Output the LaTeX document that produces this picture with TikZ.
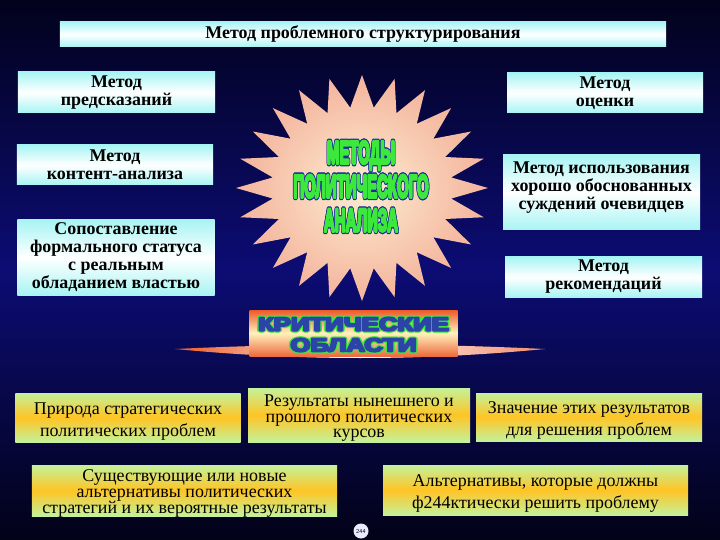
\documentclass[tikz,border=0pt]{standalone}
\usepackage{fontspec}
\setmainfont{Liberation Serif}
\newfontfamily\headfont{Liberation Sans Bold}[FakeBold=10]
\usepackage[copies]{contour}
\contournumber{8}
\usepackage{tikz}
\usetikzlibrary{positioning}
\newcommand{\boxstrut}{\rule{0pt}{19bp}}
\newcommand{\midstrut}{\rule{0pt}{14bp}}
\newcommand{\lowstrut}{\rule[-14bp]{0pt}{0pt}}
\definecolor{bgtop}{HTML}{02021C}
\definecolor{bgmid}{HTML}{0C0C74}
\definecolor{bgbot}{HTML}{020218}
\definecolor{boxcyan}{HTML}{A8F4F4}
\definecolor{areagreen}{HTML}{C4F29A}
\definecolor{areaorange}{HTML}{FFC424}
\definecolor{starin}{HTML}{FCEDD0}
\definecolor{starout}{HTML}{F4B39C}
\definecolor{titlegreen}{HTML}{3CE83C}
\definecolor{titleblue}{HTML}{1A2E9C}
\definecolor{bannerred}{HTML}{EC5A28}
\definecolor{banneryellow}{HTML}{FFF2BC}
\definecolor{bannerblue}{HTML}{2C44A8}
\tikzstyle{slide}=[
  x=1bp,y=-1bp
]
\tikzstyle{methodbox}=[
  inner sep=0pt,align=center,top color=boxcyan,bottom color=boxcyan,middle color=white,
  font=\bfseries\fontsize{18}{18}\selectfont
]
\tikzstyle{areabox}=[
  inner sep=0pt,align=center,top color=areagreen,bottom color=areagreen,middle color=areaorange
]
\tikzstyle{loose}=[
  font=\fontsize{18}{22}\selectfont
]
\tikzstyle{tight}=[
  font=\fontsize{18}{16}\selectfont
]
\tikzstyle{startext}=[
  align=center,text=titlegreen,xscale=0.47,line join=round,miter limit=1,
  font=\headfont\fontsize{32}{34}\selectfont
]
\tikzstyle{bannertext}=[
  align=center,text=bannerblue,xscale=1.36,line join=round,miter limit=1,
  font=\headfont\fontsize{19}{21}\selectfont
]

\begin{document}
\begin{tikzpicture}[slide]
  \useasboundingbox (0,0) rectangle (720,540);
  \shade[top color=bgtop,bottom color=bgbot,middle color=bgmid] (0,0) rectangle (720,540);
  % star
  \begin{scope}[shift={(362,188)}]
    \shade[inner color=starin,outer color=starout] (0:126bp and 113bp)
      \foreach \a in {0,15,...,345}{ -- (\a:126bp and 113bp) -- ({\a+7.5}:90bp and 81bp)} -- cycle;
  \end{scope}
  \begin{scope}[line join=round,miter limit=1]
    \node (methods) at (361,187) [startext] {\contourlength{1.3pt}\contour{titleblue}{МЕТОДЫ}\\
      \contourlength{1.3pt}\contour{titleblue}{ПОЛИТИЧЕСКОГО}\\
      \contourlength{1.3pt}\contour{titleblue}{АНАЛИЗА}};
  \end{scope}
  % title and methods
  \node (title) at (363,34.5) [methodbox,minimum width=606bp,minimum height=25bp] {Метод проблемного структурирования};
  \node (predict) at (116.5,92.5) [methodbox,minimum width=197bp,minimum height=41bp] {Метод\\предсказаний};
  \node (content) at (115,165) [methodbox,minimum width=196bp,minimum height=40bp] {Метод\\контент-анализа};
  \node (compare) at (116,257.5) [methodbox,minimum width=197bp,minimum height=75bp] {Сопоставление\\формального статуса\\с реальным\\обладанием властью};
  \node (assess) at (605,93) [methodbox,minimum width=196bp,minimum height=40bp] {Метод\\оценки};
  \node (evidence) at (601.5,192.5) [methodbox,minimum width=197bp,minimum height=75bp] {Метод использования\\хорошо обоснованных\\суждений очевидцев\lowstrut};
  \node (recommend) at (603.5,277) [methodbox,minimum width=197bp,minimum height=40bp] {Метод\\рекомендаций};
  % critical areas
  \shade[left color=bannerred,right color=bannerred!70,middle color=white]
    (175,349) .. controls (300,343) and (420,343) .. (545,349) .. controls (420,361) and (300,361) .. cycle;
  \node (critical) at (353.5,333) [top color=bannerred,bottom color=bannerred!90,middle color=banneryellow,
    minimum width=208bp,minimum height=46bp,inner sep=0pt] {};
  \begin{scope}[line join=round,miter limit=1]
    \node (criticaltext) at (353.5,335) [bannertext] {\contourlength{1pt}\contour{titlegreen}{КРИТИЧЕСКИЕ}\\
      \contourlength{1pt}\contour{titlegreen}{ОБЛАСТИ}};
  \end{scope}
  \node (nature) at (128,417.5) [areabox,loose,minimum width=225bp,minimum height=49bp] {\boxstrut Природа стратегических\\политических проблем};
  \node (results) at (359,415) [areabox,tight,minimum width=222bp,minimum height=54bp] {\midstrut Результаты нынешнего и\\прошлого политических\\\smash{курсов}};
  \node (meaning) at (589,417) [areabox,loose,minimum width=226bp,minimum height=48bp] {\boxstrut Значение этих результатов\\для решения проблем};
  \node (alternatives) at (184.5,490.5) [areabox,tight,minimum width=305bp,minimum height=51bp] {\midstrut Существующие или новые\\альтернативы политических\\\smash{стратегий и их вероятные результаты}};
  \node (solve) at (535.5,490) [areabox,loose,minimum width=305bp,minimum height=50bp] {\boxstrut Альтернативы, которые должны\\ф244ктически решить проблему};
  \node (page) at (361,531) [circle,fill=blue!8,inner sep=0.5pt,minimum size=15bp,
    font=\sffamily\fontsize{6}{6}\selectfont] {244};
\end{tikzpicture}
\end{document}
